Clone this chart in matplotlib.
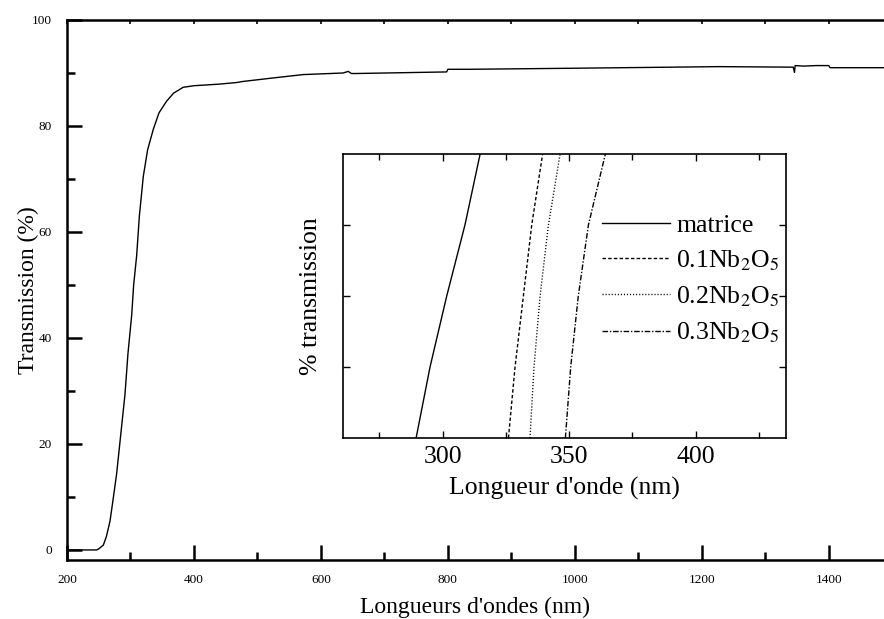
import numpy as np
import matplotlib
matplotlib.use("Agg")
import matplotlib.pyplot as plt
from matplotlib.ticker import MultipleLocator, NullFormatter

plt.rcParams['font.family'] = ['Liberation Serif', 'DejaVu Serif']
plt.rcParams['mathtext.fontset'] = 'stix'

# --- main spectrum (wavelength in nm, transmission in %) ---
wl_main = [200, 230, 246.7, 250, 257.2, 262, 267.7, 272, 278.2, 284, 291.3, 296, 301.9, 305,
           309.7, 314, 320.2, 327, 336, 345, 357, 368, 383, 400, 414, 440, 467, 477, 520, 572,
           635, 643, 648, 654, 798, 800, 835, 1000, 1228, 1344, 1346, 1347, 1360, 1380,
           1400, 1402, 1487]
T_main = [0, 0, 0, 0.2, 0.9, 2.5, 5.4, 9.0, 14.4, 21.0, 29.3, 37.0, 44.3, 50.0,
          55.5, 63.0, 70.5, 75.5, 79.4, 82.5, 84.7, 86.2, 87.3, 87.6, 87.7, 87.9, 88.2, 88.4, 89.0, 89.7,
          90.0, 90.3, 89.9, 89.9, 90.2, 90.7, 90.7, 90.9, 91.2, 91.1, 90.1, 91.4, 91.3, 91.4,
          91.4, 91.0, 91.0]

# --- inset: zoom on the absorption edge ---
T_inset = [27, 36, 45, 54, 63]
wl_matrice = [289.5, 295.0, 301.6, 308.8, 314.8]
wl_nb01 = [326.0, 328.6, 331.9, 335.2, 339.5]
wl_nb02 = [334.5, 336.1, 338.5, 341.8, 346.4]
wl_nb03 = [348.5, 350.6, 353.6, 357.6, 364.3]
inset_labels = ['matrice', r'0.1Nb$_2$O$_5$', r'0.2Nb$_2$O$_5$', r'0.3Nb$_2$O$_5$']

fig = plt.figure(figsize=(8.84, 6.19), dpi=100)
ax = fig.add_axes([67 / 884, 59 / 619, 817 / 884, 540 / 619])

ax.plot(wl_main, T_main, color='black', lw=1.0)
ax.set_xlim(200, 1487)
ax.set_ylim(-1.9, 100)

ax.xaxis.set_major_locator(MultipleLocator(200))
ax.xaxis.set_minor_locator(MultipleLocator(100))
ax.yaxis.set_major_locator(MultipleLocator(20))
ax.yaxis.set_minor_locator(MultipleLocator(10))
ax.tick_params(which='major', direction='in', length=11, width=1.8, labelsize=9.5, pad=10)
ax.tick_params(which='minor', direction='in', length=6, width=1.8)
ax.tick_params(axis='y', which='major', pad=11)

for side in ['left', 'bottom', 'top']:
    ax.spines[side].set_linewidth(1.8)
ax.spines['right'].set_visible(False)

top = ax.secondary_xaxis('top')
top.xaxis.set_major_locator(MultipleLocator(100))
top.xaxis.set_major_formatter(NullFormatter())
top.tick_params(direction='in', length=3, width=1.2)
top.spines['top'].set_visible(False)

ax.set_xlabel("Longueurs d'ondes (nm)", fontsize=17, labelpad=8)
ax.set_ylabel("Transmission (%)", fontsize=17, labelpad=-5.5)

# inset
axi = fig.add_axes([343 / 884, 181 / 619, 443 / 884, 284 / 619])
axi.plot(wl_matrice, T_inset, color='black', lw=1.0, ls='-', label=inset_labels[0])
axi.plot(wl_nb01, T_inset, color='black', lw=1.0, ls=(0, (2.5, 1.6)), label=inset_labels[1])
axi.plot(wl_nb02, T_inset, color='black', lw=1.0, ls=(0, (0.8, 1.4)), label=inset_labels[2])
axi.plot(wl_nb03, T_inset, color='black', lw=1.0, ls=(0, (4, 1.3, 1, 1.3)), label=inset_labels[3])
axi.set_xlim(260.6, 435.7)
axi.set_ylim(27, 63)
axi.xaxis.set_major_locator(MultipleLocator(50))
axi.xaxis.set_minor_locator(MultipleLocator(25))
axi.set_yticks([36, 45, 54])
axi.yaxis.set_major_formatter(NullFormatter())
axi.tick_params(which='both', direction='in', top=True, right=True, width=1.0)
axi.tick_params(which='major', length=5, labelsize=18.5, pad=6)
axi.tick_params(which='minor', length=4)
for s in axi.spines.values():
    s.set_linewidth(1.2)
axi.set_xlabel("Longueur d'onde (nm)", fontsize=18.5, labelpad=6)
axi.set_ylabel("% transmission", fontsize=18.5, labelpad=9)

axi.legend(loc='upper left', bbox_to_anchor=(0.584, 0.79), frameon=False, fontsize=18.5,
           handlelength=2.65, handletextpad=0.25, labelspacing=0.45, borderpad=0, borderaxespad=0)

fig.savefig('out.png', dpi=100)
